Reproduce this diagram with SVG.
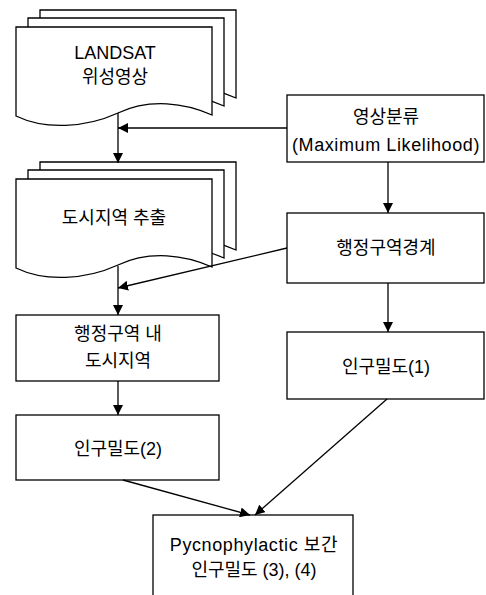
<svg xmlns="http://www.w3.org/2000/svg" width="486" height="595" viewBox="0 0 486 595">
<style>
.sh{fill:#fff;stroke:#000;stroke-width:1.3}
.bx{fill:#fff;stroke:#000;stroke-width:1.3}
.t{font-family:"Liberation Sans","Noto Sans CJK KR",sans-serif;font-size:18px;fill:#000;text-anchor:middle;dominant-baseline:central}
.w{letter-spacing:0.6px}
.c{fill:none;stroke:#000;stroke-width:1.3}
</style>
<defs>
<marker id="ah" viewBox="0 0 10 10" refX="10" refY="5" markerWidth="10" markerHeight="10" markerUnits="userSpaceOnUse" orient="auto">
<path d="M0,0 L10,5 L0,10 Z" fill="#000"/>
</marker>
<path id="wave" d="M16,27 H212 V115 C185,103 150,98 118,113 C85,128 45,130 16,116 Z"/>
</defs>
<rect width="486" height="595" fill="#fff"/>
<g id="landsat">
<use href="#wave" class="sh" transform="translate(24,-17)"/>
<use href="#wave" class="sh" transform="translate(12,-9)"/>
<use href="#wave" class="sh"/>
<text class="t" x="115" y="53">LANDSAT</text>
<text class="t" x="115" y="77">위성영상</text>
</g>
<g id="urban-extract">
<g transform="translate(0,152)">
<use href="#wave" class="sh" transform="translate(24,-17)"/>
<use href="#wave" class="sh" transform="translate(12,-9)"/>
<use href="#wave" class="sh"/>
</g>
<text class="t" x="114" y="218">도시지역 추출</text>
</g>
<g id="classify">
<rect class="bx" x="287" y="95" width="197" height="67"/>
<text class="t" x="386" y="117">영상분류</text>
<text class="t w" x="386" y="145">(Maximum Likelihood)</text>
</g>
<g id="admin-boundary">
<rect class="bx" x="287" y="213" width="197" height="70"/>
<text class="t" x="386" y="248">행정구역경계</text>
</g>
<g id="admin-urban">
<rect class="bx" x="16" y="315" width="203" height="66"/>
<text class="t" x="118" y="334">행정구역 내</text>
<text class="t" x="118" y="361">도시지역</text>
</g>
<g id="density1">
<rect class="bx" x="287" y="332" width="197" height="67"/>
<text class="t" x="386" y="367">인구밀도(1)</text>
</g>
<g id="density2">
<rect class="bx" x="16" y="415" width="203" height="65"/>
<text class="t" x="118" y="449">인구밀도(2)</text>
</g>
<g id="pycno">
<rect class="bx" x="153" y="515" width="200" height="90"/>
<text class="t w" x="254" y="545">Pycnophylactic 보간</text>
<text class="t" x="254" y="570">인구밀도 (3), (4)</text>
</g>
<g id="connectors">
<path class="c" d="M287,128 H118" marker-end="url(#ah)"/>
<path class="c" d="M118,113 V163" marker-end="url(#ah)"/>
<path class="c" d="M287,248 L118,288" marker-end="url(#ah)"/>
<path class="c" d="M118,266 V315" marker-end="url(#ah)"/>
<path class="c" d="M118,381 V415" marker-end="url(#ah)"/>
<path class="c" d="M388,162 V213" marker-end="url(#ah)"/>
<path class="c" d="M388,283 V332" marker-end="url(#ah)"/>
<path class="c" d="M123,480 L250,515" marker-end="url(#ah)"/>
<path class="c" d="M387,399 L255,515" marker-end="url(#ah)"/>
</g>
</svg>
